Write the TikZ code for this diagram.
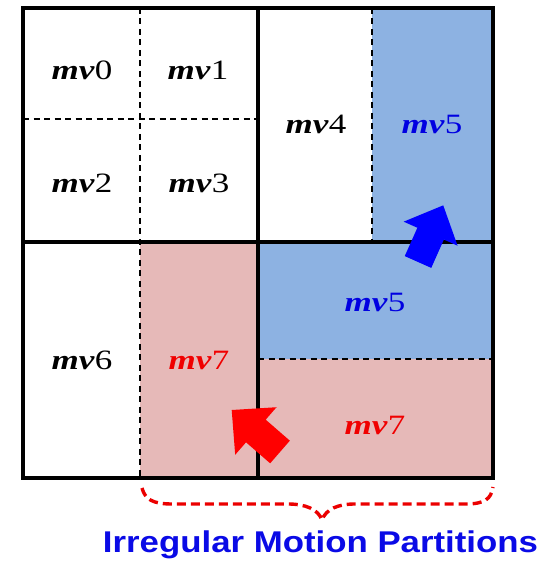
\documentclass[tikz,border=0pt]{standalone}
\usepackage{fontspec}
\setmainfont{Liberation Serif}
\newfontfamily\capfont{Liberation Sans}
\usepackage{graphicx}
\definecolor{cellblue}{RGB}{141,178,226}
\definecolor{cellred}{RGB}{230,185,184}
\definecolor{lblblue}{RGB}{0,0,225}
\definecolor{lblred}{RGB}{240,0,0}
\definecolor{capblue}{RGB}{10,10,230}
\newcommand\mvlab[1]{\scalebox{1.25}[1]{\textbf{\textit{mv}}#1}}
\begin{document}
\begin{tikzpicture}[x=1pt,y=1pt,
  solidline/.style={line width=3.4pt},
  dashline/.style={line width=2.2pt, dash pattern=on 6pt off 4.5pt},
  lbl/.style={inner sep=0pt, font=\fontsize{28}{28}\selectfont}]
\useasboundingbox (0,0) rectangle (548,561);
% fills
\fill[cellred] (140,83) rectangle (258,319);
\fill[cellred] (258,83) rectangle (493,202);
\fill[cellblue] (258,202) rectangle (493,319);
\fill[cellblue] (372,319) rectangle (493,553);
% dashed lines
\coordinate (dvt) at (140,553);
\coordinate (dvb) at (140,83);
\coordinate (dhl) at (23,442);
\coordinate (dhr) at (258,442);
\coordinate (d5t) at (372,553);
\coordinate (d5b) at (372,319);
\coordinate (d7l) at (258,202);
\coordinate (d7r) at (493,202);
\draw[dashline] (dvt) -- (dvb);
\draw[dashline] (dhl) -- (dhr);
\draw[dashline] (d5t) -- (d5b);
\draw[dashline] (d7l) -- (d7r);
% solid lines
\coordinate (mt) at (258,553);
\coordinate (mb) at (258,83);
\coordinate (hl) at (23,319);
\coordinate (hr) at (493,319);
\draw[solidline] (mt) -- (mb);
\draw[solidline] (hl) -- (hr);
\draw[solidline] (23,83) rectangle (493,553);
% labels
\node[lbl] (mv0) at (82,491) {\mvlab{0}};
\node[lbl] (mv1) at (198,491) {\mvlab{1}};
\node[lbl] (mv2) at (82,378) {\mvlab{2}};
\node[lbl] (mv3) at (199,378) {\mvlab{3}};
\node[lbl] (mv4) at (316,437) {\mvlab{4}};
\node[lbl, text=lblblue] (mv5a) at (432,437) {\mvlab{5}};
\node[lbl] (mv6) at (82,201) {\mvlab{6}};
\node[lbl, text=lblred] (mv7a) at (199,201) {\mvlab{7}};
\node[lbl, text=lblblue] (mv5b) at (375,259) {\mvlab{5}};
\node[lbl, text=lblred] (mv7b) at (375,136) {\mvlab{7}};
% block arrows
\fill[blue, shift={(418,299)}, rotate=66]
  (0,-14.5) -- (31,-14.5) -- (31,-29.5) -- (62,0) -- (31,29.5) -- (31,14.5) -- (0,14.5) -- cycle;
\fill[red, shift={(280,109)}, rotate=139]
  (0,-15) -- (32,-15) -- (32,-31.5) -- (64,0) -- (32,31.5) -- (32,15) -- (0,15) -- cycle;
% brace
\coordinate (bl) at (142,73);
\coordinate (bt) at (322,41);
\coordinate (br) at (493,74);
\draw[red!92!black, line width=3.4pt, dash pattern=on 9pt off 5pt]
  (bl) .. controls (145,62) and (152,57) .. (172,57) -- (288,57)
  .. controls (305,57) and (318,52) .. (bt)
  .. controls (326,52) and (338,57) .. (355,57) -- (465,57)
  .. controls (485,57) and (491,62) .. (br);
\node[inner sep=0pt, anchor=base, text=capblue,
  font=\capfont\bfseries\fontsize{30}{30}\selectfont] (cap) at (320.5,9)
  {\scalebox{1.16}[1]{Irregular Motion Partitions}};
\end{tikzpicture}
\end{document}
